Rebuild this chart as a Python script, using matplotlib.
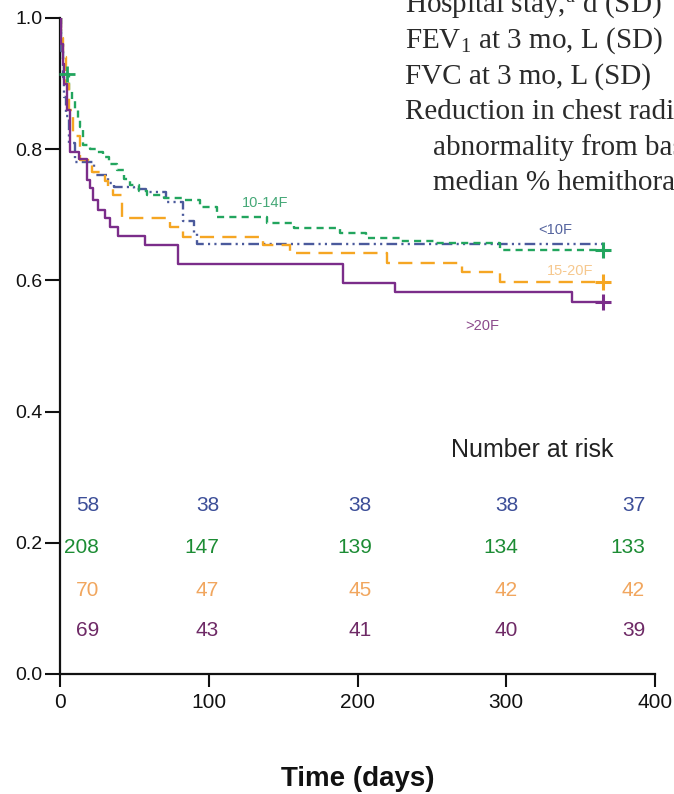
import numpy as np
import matplotlib
matplotlib.use("Agg")
import matplotlib.pyplot as plt

# ---------------- data ----------------
groups = ["<10F", "10-14F", "15-20F", ">20F"]

t_lt10 = [0, 1, 2, 3, 4, 6, 10, 23, 32, 36, 50, 58, 71, 83, 90, 92]
s_lt10 = [1.0, 0.95, 0.91, 0.88, 0.85, 0.81, 0.78, 0.76, 0.748, 0.742, 0.74, 0.735, 0.72, 0.69, 0.672, 0.656]

t_10_14 = [0, 1, 2, 3, 6, 8, 10, 12, 13.4, 15.5, 20, 25, 29, 33, 38, 43, 47, 53, 58.5, 70, 83, 94,
           105.5, 139, 157, 188, 206, 229, 253, 296]
s_10_14 = [1.0, 0.96, 0.93, 0.915, 0.89, 0.875, 0.86, 0.845, 0.834, 0.806, 0.80, 0.795, 0.788, 0.778,
           0.768, 0.755, 0.745, 0.737, 0.730, 0.726, 0.723, 0.712, 0.697, 0.688, 0.680, 0.672, 0.665,
           0.660, 0.657, 0.646]

t_15_20 = [0, 1, 2, 4, 6, 9, 13.4, 21.5, 30, 32, 35.6, 41.7, 74, 83, 136.5, 154.6, 219.8, 270, 296]
s_15_20 = [1.0, 0.97, 0.94, 0.90, 0.86, 0.82, 0.784, 0.765, 0.752, 0.741, 0.730, 0.695, 0.681, 0.666,
           0.654, 0.642, 0.627, 0.613, 0.598]

t_gt20 = [0, 1, 2, 3, 5, 6.7, 13, 18, 20.2, 22.4, 25.8, 30.3, 33.6, 39.2, 57.1, 79.3, 190, 225, 344]
s_gt20 = [1.0, 0.96, 0.93, 0.90, 0.86, 0.796, 0.785, 0.753, 0.741, 0.723, 0.707, 0.695, 0.682, 0.667,
          0.654, 0.625, 0.596, 0.582, 0.567]

end_time = 365
early_censor_green = 4.5

risk_lt10 = [58, 38, 38, 38, 37]
risk_10_14 = [208, 147, 139, 134, 133]
risk_15_20 = [70, 47, 45, 42, 42]
risk_gt20 = [69, 43, 41, 40, 39]

x_ticks = [0, 100, 200, 300, 400]
y_ticks = [0.0, 0.2, 0.4, 0.6, 0.8, 1.0]

side_text = [
    "Hospital stay,$^{\\mathrm{a}}$ d (SD)",
    "FEV$_{\\mathrm{1}}$ at 3 mo, L (SD)",
    "FVC at 3 mo, L (SD)",
    "Reduction in chest radiographic",
    "abnormality from baseline,",
    "median % hemithorax",
]

# ---------------- style ----------------
SANS = "Liberation Sans"
SERIF = "Liberation Serif"
plt.rcParams["font.family"] = [SANS, "DejaVu Sans"]
plt.rcParams["mathtext.fontset"] = "custom"
plt.rcParams["mathtext.rm"] = SERIF
plt.rcParams["mathtext.it"] = SERIF + ":italic"

colors = {"<10F": "#4b5a9c", "10-14F": "#22a55e", "15-20F": "#f5a623", ">20F": "#7b2d8a"}
risk_colors = {"<10F": "#3c4e98", "10-14F": "#1c8c34", "15-20F": "#f1a65e", ">20F": "#6e2a66"}
label_colors = {"<10F": "#55649e", "10-14F": "#45a877", "15-20F": "#f6c88e", ">20F": "#8c4a8c"}
styles = {
    "<10F": (0, (4.5, 1.8, 0.9, 1.8, 0.9, 1.8)),
    "10-14F": (0, (3.0, 2.2)),
    "15-20F": (0, (6.0, 3.5)),
    ">20F": "-",
}

W, H = 674, 794
fig = plt.figure(figsize=(W / 100, H / 100), dpi=100)
ax = fig.add_axes([60 / W, 120 / H, 595 / W, 656 / H])

series = {
    "<10F": (t_lt10, s_lt10),
    "10-14F": (t_10_14, s_10_14),
    "15-20F": (t_15_20, s_15_20),
    ">20F": (t_gt20, s_gt20),
}

for g in groups:
    t, s = series[g]
    tt = list(t) + [end_time]
    ss = list(s) + [s[-1]]
    ax.step(tt, ss, where="post", color=colors[g], lw=1.7, linestyle=styles[g],
            solid_capstyle="butt", dash_capstyle="butt", zorder=3)

# censor marks
for g in ["10-14F", "15-20F", ">20F"]:
    t, s = series[g]
    ax.plot([end_time], [s[-1]], marker="+", ms=12, mew=2.2, color=colors[g], zorder=4)
idx = np.searchsorted(t_10_14, early_censor_green, side="right") - 1
ax.plot([early_censor_green], [s_10_14[idx]], marker="+", ms=11, mew=2.0,
        color=colors["10-14F"], zorder=4, clip_on=False)

# curve labels
ax.text(138, 0.718, "10-14F", color=label_colors["10-14F"], fontsize=10.5,
        ha="center", va="center")
ax.text(333, 0.677, "<10F", color=label_colors["<10F"], fontsize=10.5,
        ha="center", va="center")
ax.text(343, 0.614, "15-20F", color=label_colors["15-20F"], fontsize=10.5,
        ha="center", va="center")
ax.text(284, 0.530, ">20F", color=label_colors[">20F"], fontsize=10.5,
        ha="center", va="center")

# number at risk
ax.text(317.3, 0.3415, "Number at risk", fontsize=18, ha="center", va="center", color="#222222")
risk_x = [26.2, 107, 209.7, 307.9, 393.3]
risk_y = {"<10F": 0.2576, "10-14F": 0.1921, "15-20F": 0.128, ">20F": 0.067}
risk_vals = {"<10F": risk_lt10, "10-14F": risk_10_14, "15-20F": risk_15_20, ">20F": risk_gt20}
for g in groups:
    for x, v in zip(risk_x, risk_vals[g]):
        ax.text(x, risk_y[g], str(v), color=risk_colors[g], fontsize=15,
                ha="right", va="center")

# axes
ax.set_xlim(0, 400)
ax.set_ylim(0, 1.0)
ax.set_xticks(x_ticks)
ax.set_xticklabels([str(v) for v in x_ticks], fontsize=15)
ax.set_yticks(y_ticks)
ax.set_yticklabels([f"{v:.1f}" for v in y_ticks], fontsize=14)
for sp in ["top", "right"]:
    ax.spines[sp].set_visible(False)
for sp in ["left", "bottom"]:
    ax.spines[sp].set_linewidth(1.6)
    ax.spines[sp].set_color("#111111")
ax.tick_params(axis="y", length=11, width=1.5, pad=1.5, colors="#111111")
ax.tick_params(axis="x", length=9.5, width=1.5, pad=4, colors="#111111")

fig.text(357.5 / W, 1 - 786 / H, "Time (days)", fontsize=20, fontweight="bold",
         ha="center", va="baseline", color="#111111")

# side text (cut off by figure edge, as in the source page)
baselines = [12, 48, 84, 119, 155, 190]
lefts = [405, 405, 405, 405, 433, 433]
for txt, b, l in zip(side_text, baselines, lefts):
    fig.text(l / W, 1 - b / H, txt, fontsize=21, family=SERIF, color="#2a2a2a",
             ha="left", va="baseline")

fig.savefig("out.png", dpi=100)
